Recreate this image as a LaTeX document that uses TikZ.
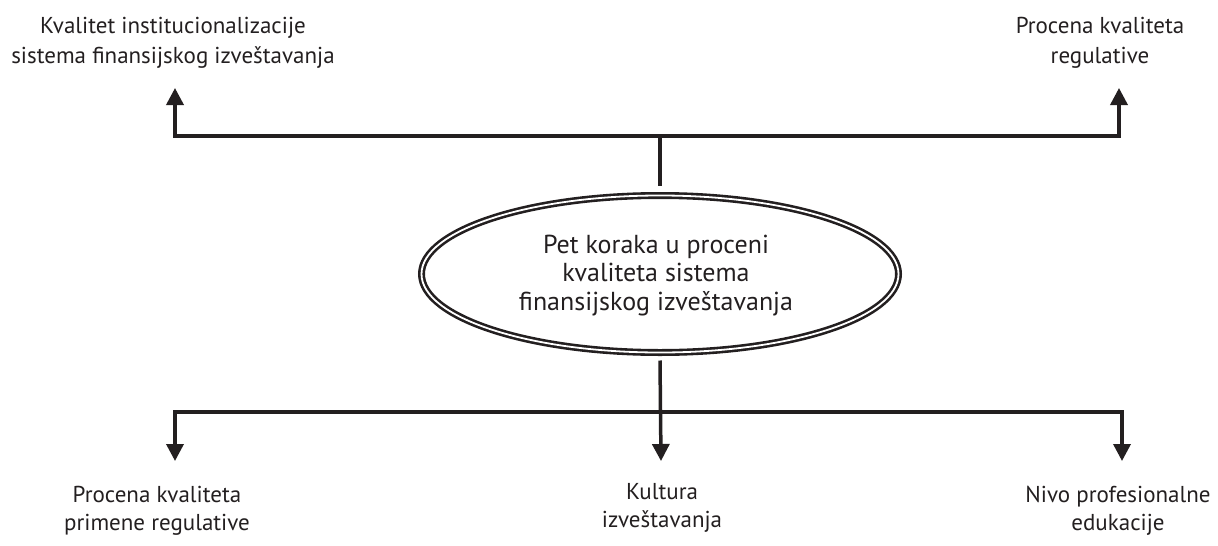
\documentclass[tikz,border=0pt]{standalone}
\usepackage{fontspec}
\setmainfont{PT Sans}
\usetikzlibrary{arrows.meta,shapes.geometric}
\definecolor{ink}{HTML}{231F20}
\begin{document}
\begin{tikzpicture}[x=1pt,y=-1pt,
  lbl/.style={align=center,text=ink,font=\fontsize{23}{29}\selectfont,inner sep=0pt,anchor=base},
  toplbl/.style={lbl,font=\fontsize{23}{30}\selectfont},
  botlbl/.style={lbl,font=\fontsize{23}{28}\selectfont},
  midlbl/.style={lbl,font=\fontsize{26}{28.5}\selectfont},
  conn/.style={draw=ink,line width=3.5pt,line join=miter},
  arr/.style={conn,-{Triangle[width=17pt,length=17pt]}},
  oval/.style={ellipse,draw=ink,double=white,line width=2.6pt,double distance=1.8pt,
    minimum width=477pt,minimum height=157pt,inner sep=0pt,outer sep=0pt}]
\useasboundingbox (0,0) rectangle (1218,546);
\node[oval] (c) at (660,274) {};
\node[midlbl] (ct) at (656,310) {Pet koraka u proceni\\kvaliteta sistema\\finansijskog izveštavanja};
\node[toplbl] (t1) at (173,63) {Kvalitet institucionalizacije\\sistema finansijskog izveštavanja};
\node[toplbl] (t2) at (1100,63) {Procena kvaliteta\\regulative};
\node[botlbl] (b1) at (157,530) {Procena kvaliteta\\primene regulative};
\node[botlbl] (b2) at (662,527) {Kultura\\izveštavanja};
\node[botlbl] (b3) at (1118,530) {Nivo profesionalne\\edukacije};
\coordinate (jt) at (660,136);
\coordinate (jb) at (660,412);
\coordinate (at1) at (175,88);
\coordinate (at2) at (1119,88);
\coordinate (ab1) at (175,461);
\coordinate (ab2) at (661,461);
\coordinate (ab3) at (1122,461);
\draw[conn] ([yshift=10pt]c.north) -- (jt);
\draw[arr] (jt) -| (at1);
\draw[arr] (jt) -| (at2);
\draw[arr] (jb) -| (ab1);
\draw[arr] (jb) -| (ab3);
\draw[arr] ([yshift=-8pt]c.south) -- (ab2);
\end{tikzpicture}
\end{document}
